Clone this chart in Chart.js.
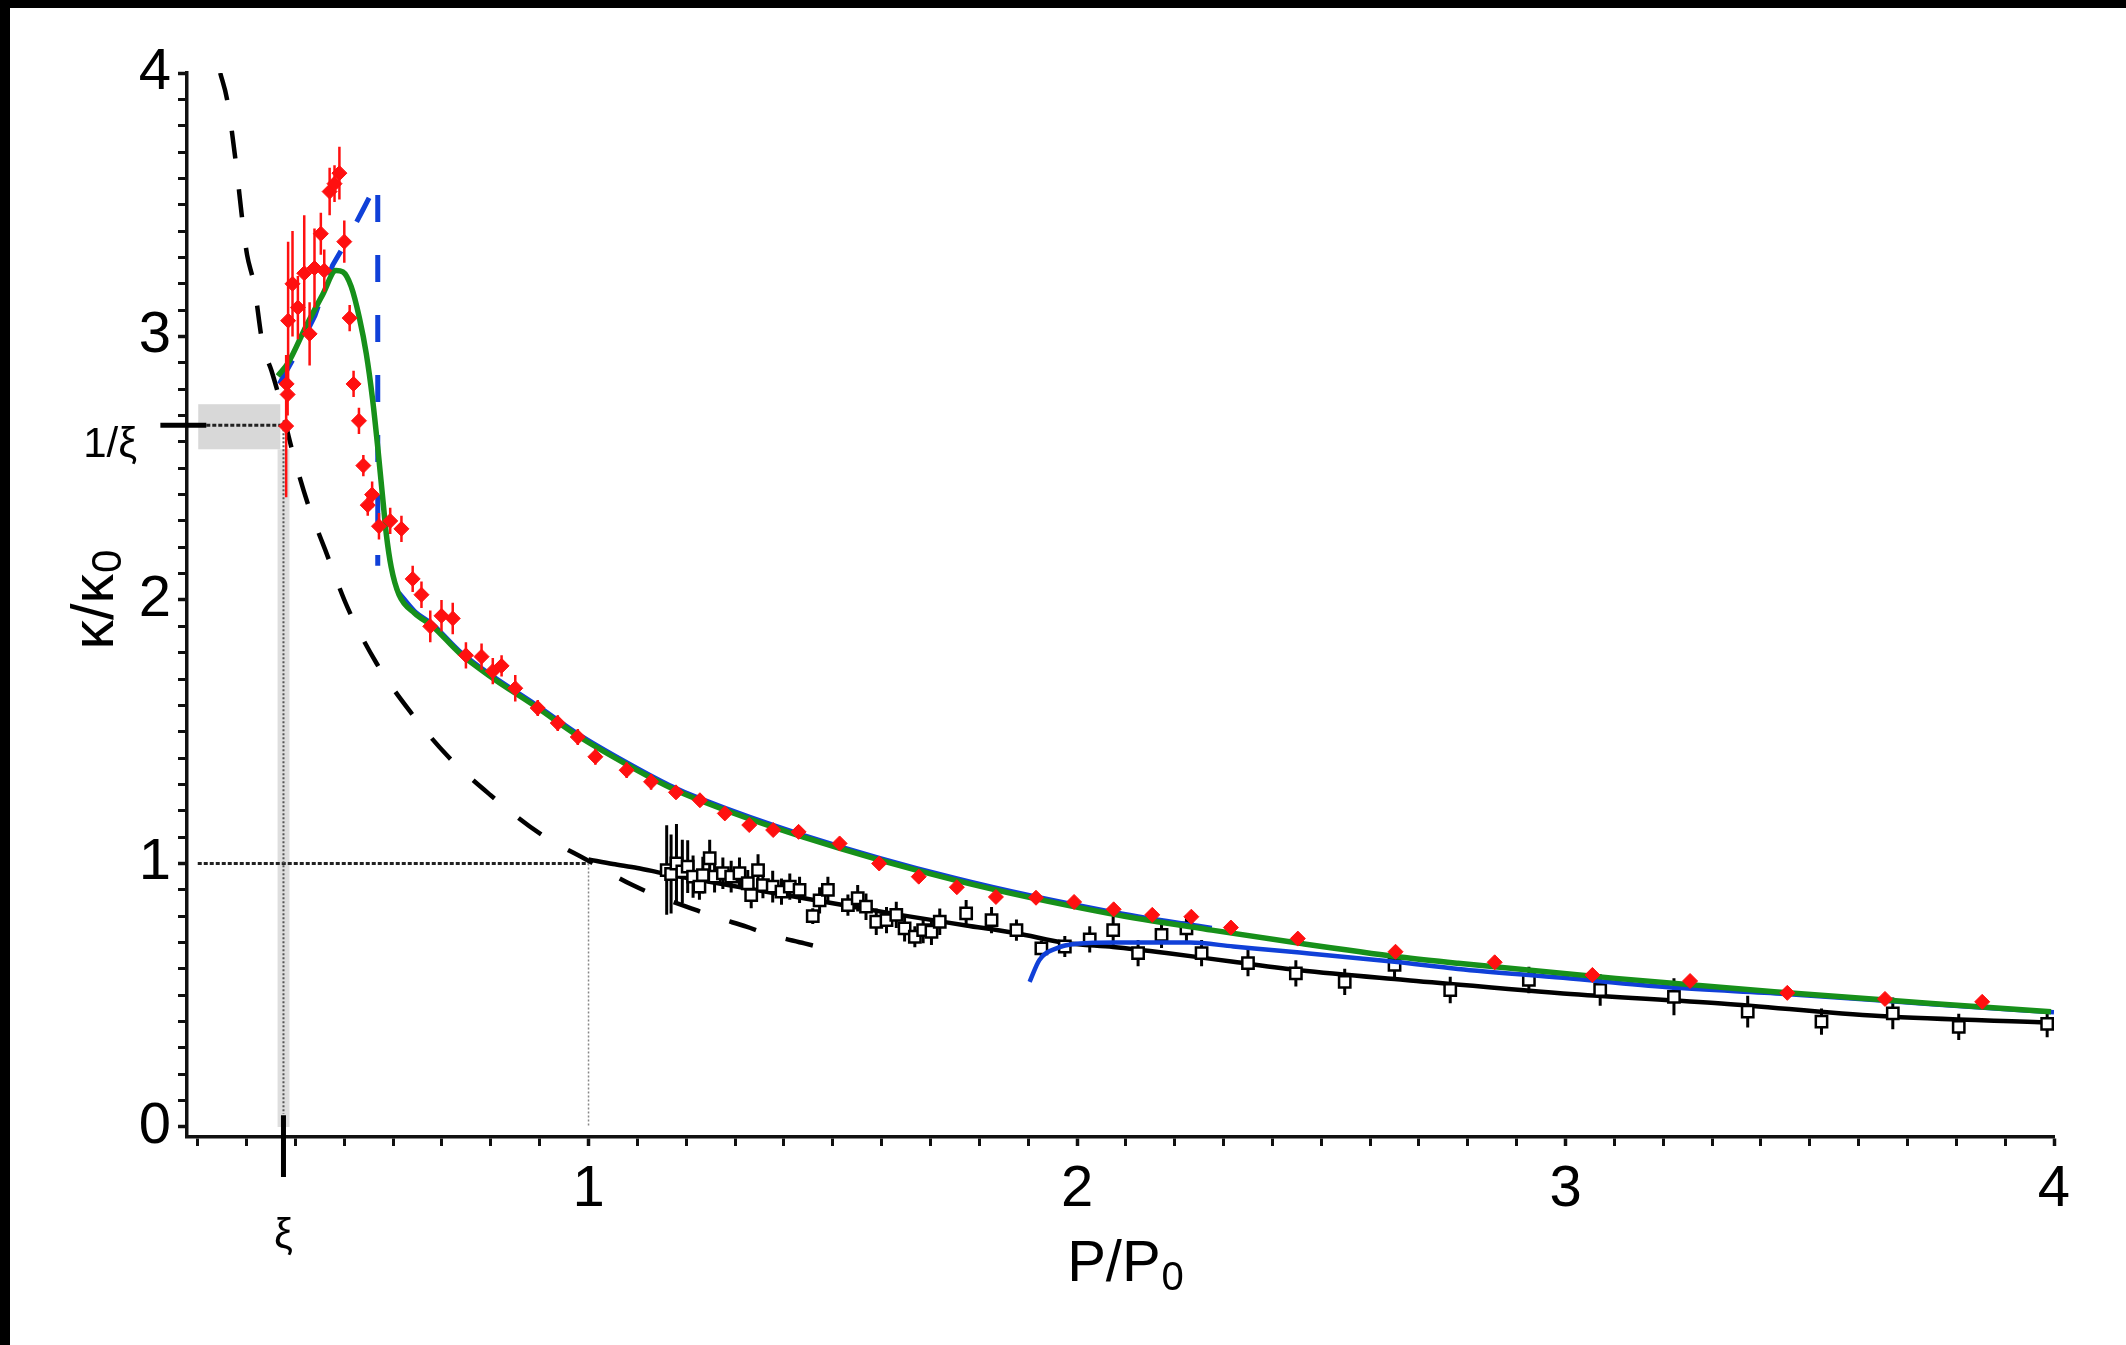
<!DOCTYPE html>
<html><head><meta charset="utf-8">
<script src="https://cdn.jsdelivr.net/npm/chart.js@4.4.1/dist/chart.umd.min.js"></script>
<style>
html,body{margin:0;padding:0;background:#fff;}
#wrap{position:relative;width:2126px;height:1345px;overflow:hidden;background:#fff;}
canvas{position:absolute;left:0;top:0;}
.bar{position:absolute;background:#000;}
</style></head><body>
<div id="wrap"><canvas id="c" width="2126" height="1345"></canvas>
<div class="bar" style="left:0;top:0;width:2126px;height:8px"></div>
<div class="bar" style="left:0;top:0;width:10px;height:1345px"></div>
</div>
<script>
// ---- axis / reference values ----
const XI = 0.3755;
const xRange = [0.178, 4.0];
const yRange = [-0.038, 4.0];
const xMajorTicks = [1, 2, 3, 4];
const yMajorTicks = [0, 1, 2, 3, 4];
const minorStep = 0.1;
const shadeX = [0.201, 0.369];
const shadeY = [2.572, 2.743];
const bandX = [0.3634, 0.3878];

// ---- red data points (x, y, error) ----
const redX = [0.381,0.382,0.384,0.385,0.394,0.405,0.418,0.429,0.439,0.452,0.459,0.470,0.480,0.490,0.500,0.511,0.519,0.530,0.539,0.548,0.557,0.571,0.594,0.617,0.640,0.658,0.676,0.699,0.722,0.749,0.781,0.804,0.822,0.850,0.896,0.937,0.978,1.014,1.078,1.128,1.179,1.228,1.279,1.329,1.378,1.430,1.514,1.595,1.676,1.754,1.834,1.916,1.994,2.075,2.154,2.234,2.315,2.452,2.652,2.855,3.055,3.255,3.454,3.654,3.853];
const redY = [2.66,2.82,2.78,3.06,3.20,3.11,3.24,3.01,3.26,3.39,3.25,3.55,3.58,3.62,3.36,3.07,2.82,2.68,2.51,2.36,2.40,2.28,2.30,2.27,2.08,2.02,1.90,1.94,1.93,1.79,1.785,1.73,1.75,1.665,1.59,1.533,1.48,1.405,1.354,1.31,1.27,1.24,1.19,1.146,1.127,1.12,1.076,1.0,0.95,0.91,0.873,0.87,0.854,0.826,0.805,0.798,0.757,0.715,0.665,0.625,0.577,0.554,0.509,0.486,0.475];
const redErr = [0.27,0.10,0.08,0.30,0.20,0.12,0.22,0.12,0.15,0.08,0.08,0.09,0.07,0.10,0.08,0.05,0.05,0.05,0.04,0.04,0.05,0.05,0.05,0.05,0.05,0.05,0.06,0.06,0.06,0.05,0.05,0.05,0.04,0.05,0.03,0.03,0.03,0.03,0.03,0.03,0.02,0.02,0.02,0.02,0.02,0.02,0.02,0.02,0.02,0.02,0.02,0.02,0.02,0.02,0.02,0.02,0.02,0.015,0.015,0.015,0.015,0.015,0.015,0.015,0.015];

// ---- black open squares (x, y, error) ----
const sqX = [1.160,1.169,1.180,1.192,1.203,1.214,1.227,1.234,1.248,1.258,1.275,1.292,1.309,1.326,1.333,1.347,1.357,1.377,1.395,1.412,1.432,1.459,1.473,1.490,1.531,1.551,1.568,1.589,1.610,1.630,1.647,1.668,1.685,1.702,1.719,1.773,1.825,1.876,1.927,1.975,2.026,2.074,2.125,2.173,2.224,2.255,2.350,2.448,2.548,2.650,2.764,2.925,3.071,3.222,3.373,3.524,3.670,3.805,3.986];
const sqY = [0.975,0.96,1.0,0.97,0.988,0.95,0.912,0.956,1.02,0.95,0.963,0.95,0.963,0.925,0.88,0.975,0.918,0.912,0.893,0.912,0.90,0.80,0.86,0.90,0.842,0.868,0.836,0.779,0.785,0.805,0.754,0.722,0.747,0.741,0.779,0.811,0.785,0.747,0.678,0.685,0.712,0.747,0.66,0.729,0.754,0.66,0.622,0.583,0.551,0.615,0.52,0.558,0.52,0.494,0.438,0.40,0.431,0.38,0.391];
const sqErr = [0.17,0.15,0.15,0.12,0.10,0.08,0.05,0.07,0.07,0.06,0.06,0.06,0.06,0.05,0.05,0.06,0.05,0.06,0.05,0.05,0.05,0.03,0.05,0.05,0.04,0.05,0.05,0.05,0.05,0.05,0.05,0.04,0.05,0.05,0.05,0.05,0.05,0.04,0.03,0.04,0.05,0.06,0.05,0.05,0.05,0.05,0.05,0.05,0.05,0.05,0.05,0.05,0.06,0.07,0.06,0.05,0.06,0.05,0.05];

// ---- green model curve ----
const greenX = [0.364,0.385,0.422,0.456,0.483,0.497,0.514,0.531,0.545,0.558,0.569,0.579,0.586,0.596,0.612,0.644,0.681,0.735,0.799,0.891,0.982,1.074,1.165,1.227,1.44,1.754,2.067,2.276,2.456,2.661,2.78,3.103,3.427,3.75,3.994];
const greenY = [2.85,2.90,3.04,3.16,3.25,3.245,3.19,3.07,2.935,2.76,2.57,2.38,2.25,2.125,2.02,1.95,1.90,1.80,1.71,1.597,1.48,1.38,1.29,1.24,1.10,0.935,0.81,0.747,0.697,0.645,0.621,0.564,0.513,0.469,0.437];

// ---- blue curves ----
const blueDashX = [0.367,0.40,0.44,0.476,0.507,0.538,0.5685,0.5685];
const blueDashY = [2.82,2.93,3.08,3.27,3.37,3.48,3.59,2.13];
const blueUpperX = [0.612,0.644,0.681,0.735,0.799,0.891,0.982,1.074,1.165,1.227,1.44,1.754,2.067,2.276];
const blueUpperY = [2.028,1.958,1.908,1.808,1.718,1.605,1.488,1.388,1.298,1.248,1.108,0.943,0.818,0.755];
const blueLowX = [1.903,1.923,1.958,1.999,2.081,2.231,2.32,2.456,2.65,2.78,2.995,3.21,3.45,3.75,4.0];
const blueLowY = [0.551,0.634,0.678,0.695,0.70,0.70,0.685,0.662,0.627,0.60,0.566,0.53,0.505,0.466,0.435];

// ---- black solid curve ----
const blackX = [1.0,1.05,1.10,1.152,1.227,1.364,1.50,1.637,1.773,1.876,1.978,2.074,2.183,2.32,2.456,2.672,2.995,3.319,3.643,3.994];
const blackY = [1.015,0.998,0.983,0.963,0.937,0.893,0.849,0.805,0.765,0.735,0.698,0.683,0.66,0.627,0.595,0.558,0.507,0.469,0.421,0.396];

// ---- black dashed curve ----
const dashX = [0.246,0.26,0.278,0.292,0.301,0.315,0.333,0.351,0.365,0.393,0.4245,0.461,0.507,0.566,0.635,0.713,0.799,0.9,1.0,1.09,1.145,1.21,1.258,1.323,1.374,1.442,1.497];
const dashY = [4.0,3.9,3.66,3.43,3.31,3.2,2.97,2.87,2.78,2.57,2.37,2.19,1.97,1.76,1.576,1.405,1.26,1.114,1.01,0.918,0.874,0.83,0.798,0.76,0.728,0.697,0.671];

const pts = (xs, ys) => xs.map((v, i) => ({x: v, y: ys[i]}));
const FONT = '"Liberation Sans", Arial, sans-serif';
const isMajor = (v, list) => list.some(m => Math.abs(v - m) < 1e-6);
const tenthTicks = (scale) => {
  const arr = [];
  for (let k = Math.ceil(scale.min / minorStep - 1e-9); k <= Math.floor(scale.max / minorStep + 1e-9); k++) arr.push({value: Math.round(k * minorStep * 1000) / 1000});
  scale.ticks = arr;
};

const errorBars = {
  id: 'errorBars',
  beforeDatasetDraw(chart, args) {
    const ds = chart.data.datasets[args.index];
    if (!ds.errors) return;
    const {ctx, scales: {x, y}} = chart;
    ctx.save();
    ctx.beginPath();
    ctx.rect(chart.chartArea.left, chart.chartArea.top, chart.chartArea.right - chart.chartArea.left, chart.chartArea.bottom - chart.chartArea.top);
    ctx.clip();
    ctx.strokeStyle = ds.errColor; ctx.lineWidth = ds.errWidth;
    ctx.beginPath();
    ds.data.forEach((p, i) => {
      const px = x.getPixelForValue(p.x);
      ctx.moveTo(px, y.getPixelForValue(p.y + ds.errors[i]));
      ctx.lineTo(px, y.getPixelForValue(p.y - ds.errors[i]));
    });
    ctx.stroke();
    ctx.restore();
  }
};

const guides = {
  id: 'guides',
  beforeDatasetsDraw(chart) {
    const {ctx, scales: {x, y}} = chart;
    const X = v => x.getPixelForValue(v), Y = v => y.getPixelForValue(v);
    ctx.save();
    ctx.fillStyle = '#d8d8d8';
    ctx.fillRect(X(shadeX[0]), Y(shadeY[1]), X(shadeX[1]) - X(shadeX[0]), Y(shadeY[0]) - Y(shadeY[1]));
    ctx.fillStyle = '#dedede';
    ctx.fillRect(X(bandX[0]), Y(shadeY[0]), X(bandX[1]) - X(bandX[0]), Y(0) - Y(shadeY[0]));
    ctx.strokeStyle = '#222'; ctx.lineWidth = 3; ctx.setLineDash([4, 2]);
    ctx.beginPath();
    ctx.moveTo(X(0.2), Y(1)); ctx.lineTo(X(1), Y(1));
    ctx.moveTo(X(0.2175), Y(1 / XI)); ctx.lineTo(X(XI), Y(1 / XI));
    ctx.stroke();
    ctx.strokeStyle = '#555'; ctx.lineWidth = 2; ctx.setLineDash([2, 2]);
    ctx.beginPath();
    ctx.moveTo(X(XI), Y(1 / XI)); ctx.lineTo(X(XI), Y(0.05));
    ctx.stroke();
    ctx.strokeStyle = '#888'; ctx.lineWidth = 1.5;
    ctx.beginPath();
    ctx.moveTo(X(1), Y(1)); ctx.lineTo(X(1), Y(0));
    ctx.stroke();
    ctx.restore();
  },
  afterDraw(chart) {
    const {ctx, scales: {x, y}} = chart;
    const X = v => x.getPixelForValue(v), Y = v => y.getPixelForValue(v);
    ctx.save();
    ctx.strokeStyle = '#000'; ctx.lineWidth = 5; ctx.setLineDash([]);
    ctx.beginPath();
    ctx.moveTo(X(0.1235), Y(1 / XI)); ctx.lineTo(X(0.2175), Y(1 / XI));
    ctx.moveTo(X(XI), Y(0.045)); ctx.lineTo(X(XI), Y(-0.19));
    ctx.stroke();
    ctx.fillStyle = '#000';
    ctx.font = '42px ' + FONT;
    ctx.textAlign = 'right'; ctx.textBaseline = 'middle';
    ctx.fillText('1/ξ', 137, Y(1 / XI) + 20);
    ctx.textAlign = 'center';
    ctx.fillText('ξ', X(XI), 1236);
    ctx.textBaseline = 'alphabetic'; ctx.textAlign = 'left';
    ctx.font = '58px ' + FONT;
    const main = 'P/P';
    const wMain = ctx.measureText(main).width;
    ctx.font = '40px ' + FONT;
    const wSub = ctx.measureText('0').width;
    const x0 = 1125 - (wMain + wSub) / 2;
    ctx.font = '58px ' + FONT;
    ctx.fillText(main, x0, 1281);
    ctx.font = '40px ' + FONT;
    ctx.fillText('0', x0 + wMain + 1, 1290);
    ctx.translate(113, 600);
    ctx.rotate(-Math.PI / 2);
    ctx.font = '59px ' + FONT;
    const ym = 'κ/κ';
    const wy = ctx.measureText(ym).width;
    ctx.font = '42px ' + FONT;
    const wy0 = ctx.measureText('0').width;
    const s0 = -(wy + wy0) / 2;
    ctx.font = '59px ' + FONT;
    ctx.fillText(ym, s0, 0);
    ctx.font = '42px ' + FONT;
    ctx.fillText('0', s0 + wy + 1, 8);
    ctx.restore();
  }
};

const axisCommon = (majors) => ({
  type: 'linear',
  afterBuildTicks: tenthTicks,
  ticks: {
    autoSkip: false, maxRotation: 0, minRotation: 0,
    color: '#000', font: {family: FONT, size: 58},
    callback: (v) => isMajor(v, majors) ? String(Math.round(v)) : ''
  },
  grid: {
    display: true, drawOnChartArea: false, drawTicks: true, tickLength: 9,
    tickColor: '#111',
    tickWidth: (c) => (c.tick && isMajor(c.tick.value, majors)) ? 3.5 : 3
  },
  border: {display: true, color: '#111', width: 3.5}
});

const xAxis = Object.assign(axisCommon(xMajorTicks), {min: xRange[0], max: xRange[1], afterFit: (s) => { s.height = 208; }});
xAxis.ticks.padding = 9;
const yAxis = Object.assign(axisCommon(yMajorTicks), {min: yRange[0], max: yRange[1], afterFit: (s) => { s.width = 187; }});
yAxis.ticks.padding = 7;

new Chart(document.getElementById('c'), {
  type: 'scatter',
  data: {
    datasets: [
      {label: 'red', data: pts(redX, redY), errors: redErr, errColor: '#ff1010', errWidth: 2.5,
       pointStyle: 'rectRot', pointRadius: 7.5, backgroundColor: '#ff1010', borderColor: '#ff1010', borderWidth: 1, showLine: false},
      {label: 'green', data: pts(greenX, greenY), showLine: true, borderColor: '#17901a', borderWidth: 5.5, pointRadius: 0, cubicInterpolationMode: 'monotone'},
      {label: 'blueUpper', data: pts(blueUpperX, blueUpperY), showLine: true, borderColor: '#1040d8', borderWidth: 4.5, pointRadius: 0, cubicInterpolationMode: 'monotone'},
      {label: 'blueLow', data: pts(blueLowX, blueLowY), showLine: true, borderColor: '#1040d8', borderWidth: 4.5, pointRadius: 0, cubicInterpolationMode: 'monotone'},
      {label: 'blueDash', data: pts(blueDashX, blueDashY), showLine: true, borderColor: '#1040d8', borderWidth: 5, borderDash: [27, 33], pointRadius: 0, tension: 0},
      {label: 'squares', data: pts(sqX, sqY), errors: sqErr, errColor: '#000', errWidth: 3,
       pointStyle: 'rect', pointRadius: 8, backgroundColor: '#fff', borderColor: '#000', borderWidth: 2.5, showLine: false},
      {label: 'black', data: pts(blackX, blackY), showLine: true, borderColor: '#000', borderWidth: 4.5, pointRadius: 0, cubicInterpolationMode: 'monotone'},
      {label: 'dashed', data: pts(dashX, dashY), showLine: true, borderColor: '#000', borderWidth: 4.5, borderDash: [28, 31], pointRadius: 0, cubicInterpolationMode: 'monotone'}
    ]
  },
  options: {
    responsive: false, animation: false, devicePixelRatio: 1,
    layout: {padding: {left: 0, top: 73, right: 72, bottom: 0}},
    plugins: {legend: {display: false}, tooltip: {enabled: false}, title: {display: false}},
    scales: {x: xAxis, y: yAxis}
  },
  plugins: [errorBars, guides]
});
</script>
</body></html>
